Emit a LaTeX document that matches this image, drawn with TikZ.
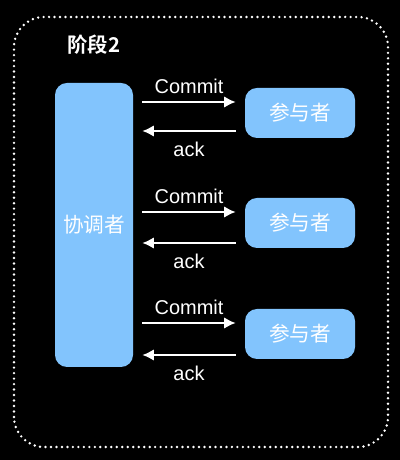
\documentclass[tikz,border=0pt]{standalone}
\usepackage{fontspec}
\setmainfont{Liberation Sans}
\newfontfamily\cjk[BoldFont={Noto Sans CJK SC Bold}]{Noto Sans CJK SC}
\usetikzlibrary{arrows.meta,positioning,calc}
\definecolor{boxblue}{RGB}{130,196,253}
\tikzstyle{coordbox} = [rectangle, rounded corners=0.3cm, minimum width=1.95cm, minimum height=7.1cm, text centered, fill=boxblue, text=white, font=\cjk\fontsize{14.7}{17}\selectfont]
\tikzstyle{partbox} = [rectangle, rounded corners=0.3cm, minimum width=2.75cm, minimum height=1.25cm, text centered, fill=boxblue, text=white, font=\cjk\fontsize{14.7}{17}\selectfont]
\tikzstyle{arrow} = [white, line width=1.5pt, -{Latex[length=2.9mm,width=2.9mm]}, shorten <=0.225cm, shorten >=0.225cm]
\tikzstyle{msg} = [text=white, font=\fontsize{14.2}{17}\selectfont]
\tikzset{dotborder/.style={white, line width=1.9pt, line cap=round, dash pattern=on 0pt off 3.9pt, rounded corners=0.75cm}}

\begin{document}
\begin{tikzpicture}
    \fill [black] (0,0) rectangle (10,11.5);
    \useasboundingbox (0,0) rectangle (10,11.5);
    \draw [dotborder] (0.35,0.325) rectangle (9.7,11.075);

    \node [text=white, font=\cjk\bfseries\fontsize{14.5}{17}\selectfont] (stage) at (2.35,10.375) {阶段2};

    \node [coordbox] (coord) at (2.35,5.875) {协调者};
    \node [partbox, right of = coord, xshift = 4.15cm, yshift = 2.8cm] (part1) {参与者};
    \node [partbox, below of = part1, yshift = -1.75cm] (part2) {参与者};
    \node [partbox, below of = part2, yshift = -1.775cm] (part3) {参与者};

    % commit / ack
    \draw [arrow] ([yshift=0.275cm]part1.west -| coord.east) -- node [msg, above=0.06cm] (commit1) {Commit} ([yshift=0.275cm]part1.west);
    \draw [arrow] ([yshift=-0.45cm]part1.west) -- node [msg, below=0.13cm] (ack1) {ack} ([yshift=-0.45cm]part1.west -| coord.east);
    \draw [arrow] ([yshift=0.275cm]part2.west -| coord.east) -- node [msg, above=0.06cm] (commit2) {Commit} ([yshift=0.275cm]part2.west);
    \draw [arrow] ([yshift=-0.5cm]part2.west) -- node [msg, below=0.13cm] (ack2) {ack} ([yshift=-0.5cm]part2.west -| coord.east);
    \draw [arrow] ([yshift=0.275cm]part3.west -| coord.east) -- node [msg, above=0.06cm] (commit3) {Commit} ([yshift=0.275cm]part3.west);
    \draw [arrow] ([yshift=-0.525cm]part3.west) -- node [msg, below=0.13cm] (ack3) {ack} ([yshift=-0.525cm]part3.west -| coord.east);
\end{tikzpicture}
\end{document}
